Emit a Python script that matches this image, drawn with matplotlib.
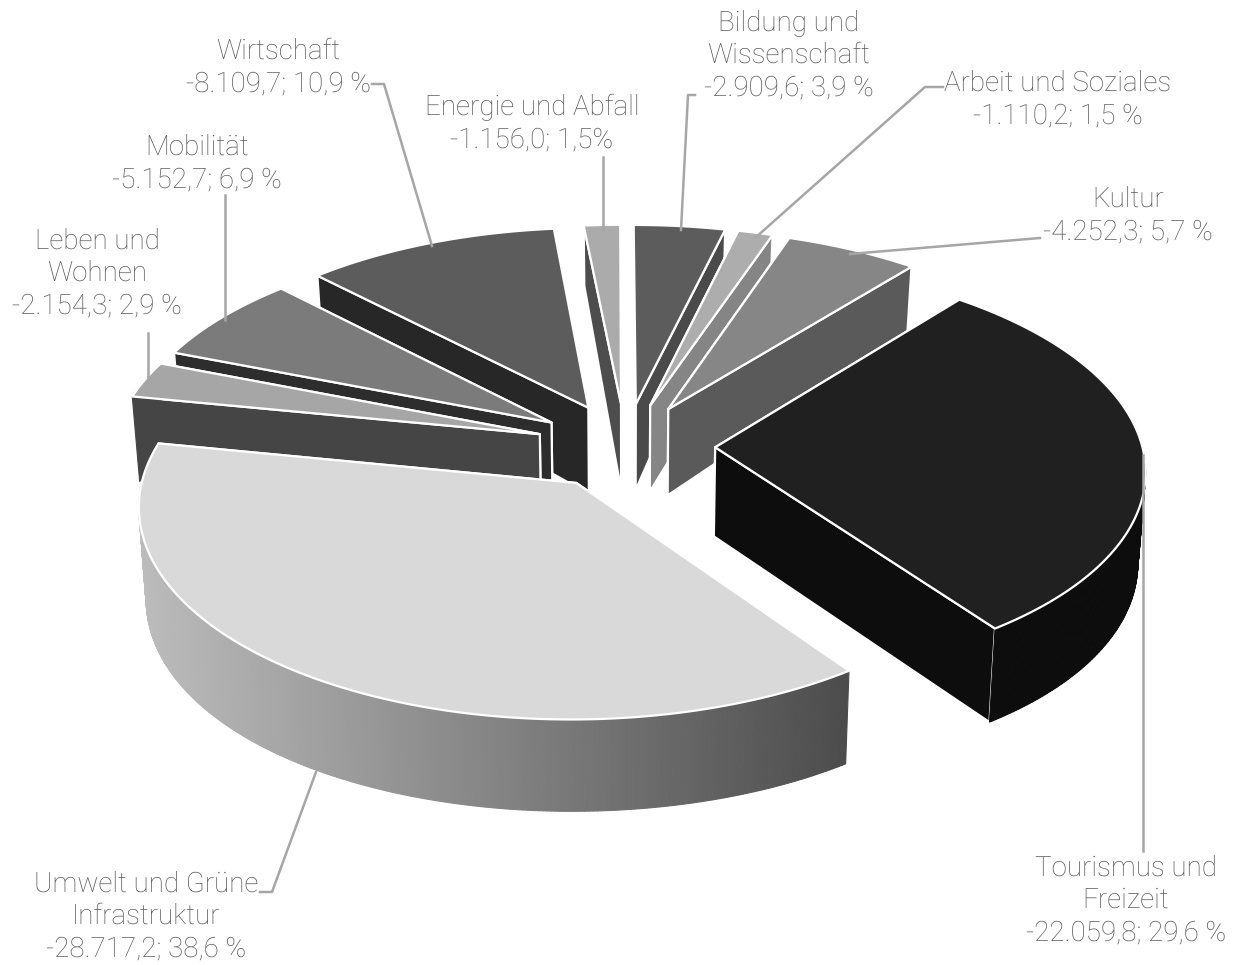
import numpy as np
import matplotlib
matplotlib.use("Agg")
import matplotlib.pyplot as plt
from matplotlib.patches import Polygon
from matplotlib.colors import to_rgb

plt.rcParams["text.hinting"] = "no_hinting"

categories = ["Tourismus und Freizeit", "Umwelt und Grüne Infrastruktur", "Leben und Wohnen",
              "Mobilität", "Wirtschaft", "Energie und Abfall", "Bildung und Wissenschaft",
              "Arbeit und Soziales", "Kultur"]
values = [22059.8, 28717.2, 2154.3, 5152.7, 8109.7, 1156.0, 2909.6, 1110.2, 4252.3]
top_colors = ["#202020", "#d9d9d9", "#a6a6a6", "#7b7b7b", "#5c5c5c", "#ababab", "#5c5c5c", "#adadad", "#868686"]
wall_colors = ["#0d0d0d", None, "#454545", "#2d2d2d", "#272727", "#4d4d4d", "#4a4a4a", "#858585", "#5a5a5a"]

label_lines = [
    ["Tourismus und", "Freizeit", "-22.059,8; 29,6 %"],
    ["Umwelt und Grüne", "Infrastruktur", "-28.717,2; 38,6 %"],
    ["Leben und", "Wohnen", "-2.154,3; 2,9 %"],
    ["Mobilität", "-5.152,7; 6,9 %"],
    ["Wirtschaft", "-8.109,7; 10,9 %"],
    ["Energie und Abfall", "-1.156,0; 1,5%"],
    ["Bildung und", "Wissenschaft", "-2.909,6; 3,9 %"],
    ["Arbeit und Soziales", "-1.110,2; 1,5 %"],
    ["Kultur", "-4.252,3; 5,7 %"],
]
label_pos = [(1126, 868), (146, 884), (97, 241), (197, 147), (278, 51), (532, 107), (789, 23), (1058, 83), (1128, 199)]
leaders = [
    [(1143, 455), (1143, 851)],
    [(316, 772), (272, 892), (260, 892)],
    [(148, 333), (148, 378)],
    [(225, 195), (225, 320)],
    [(372, 84), (384, 84), (432, 246)],
    [(603, 157), (603, 230)],
    [(695, 95), (688, 95), (681, 230)],
    [(943, 87), (925, 87), (755, 238)],
    [(1040, 238), (850, 254)],
]

# projection layout (pixels)
CX, CY, A, B = 625.5, 446, 427, 205
PERSP, EXPLODE, START = 0.10, 0.21, 39.2
GRAD_L, GRAD_R = np.array(to_rgb("#bcbcbc")), np.array(to_rgb("#4c4c4c"))

def top(u, v):
    s = 1 / (1 + PERSP * v)
    return np.column_stack([CX + A * u * s, CY - B * v * s])

def bottom(u, v):
    p = top(u, v)
    d = 89 - 13 * v - 9 * v ** 2
    return np.column_stack([CX + (p[:, 0] - CX) * 0.985, p[:, 1] + d])

fig = plt.figure(figsize=(12.36, 9.65), dpi=100)
ax = fig.add_axes([0, 0, 1, 1])
ax.set_xlim(0, 1236)
ax.set_ylim(965, 0)
ax.axis("off")

vals = np.array(values)
fracs = vals / vals.sum() * 360
starts = START + np.concatenate([[0], np.cumsum(fracs)[:-1]])
ends = starts + fracs
mids = (starts + ends) / 2
order = np.argsort(-np.cos(np.radians(mids)))

WHITE = dict(edgecolor="white", linewidth=1.6, joinstyle="round")

for i in order:
    th = np.radians(np.linspace(starts[i], ends[i], max(int(fracs[i] * 2), 4)))
    ou = EXPLODE * np.sin(np.radians(mids[i]))
    ov = EXPLODE * np.cos(np.radians(mids[i]))
    u = ou + np.sin(th)
    v = ov + np.cos(th)
    au, av = np.array([ou]), np.array([ov])
    t_arc, b_arc = top(u, v), bottom(u, v)
    t_apex, b_apex = top(au, av)[0], bottom(au, av)[0]
    wc = wall_colors[i]

    quads = [
        (np.vstack([t_apex, t_arc[0], b_arc[0], b_apex]), v[0] + ov),
        (np.vstack([t_apex, t_arc[-1], b_arc[-1], b_apex]), v[-1] + ov),
    ]
    quads.sort(key=lambda q: -q[1])
    for q, _ in quads:
        ax.add_patch(Polygon(q, closed=True, facecolor=wc if wc else GRAD_R, **WHITE))

    for k in range(len(th) - 1):
        if np.cos((th[k] + th[k + 1]) / 2) > 0.35:
            continue
        quad = np.vstack([t_arc[k], t_arc[k + 1], b_arc[k + 1], b_arc[k]])
        if wc:
            col = wc
        else:
            f = np.clip((quad[:, 0].mean() - 140) / (848 - 140), 0, 1)
            col = GRAD_L * (1 - f) + GRAD_R * f
        ax.add_patch(Polygon(quad, closed=True, facecolor=col, edgecolor=col, linewidth=0.8))

    ax.add_patch(Polygon(np.vstack([t_apex, t_arc]), closed=True, facecolor=top_colors[i], **WHITE))

for pts in leaders:
    xs, ys = zip(*pts)
    ax.plot(xs, ys, color="#a6a6a6", lw=1.8, solid_joinstyle="round", zorder=5)

for lines, (x, y) in zip(label_lines, label_pos):
    for j, line in enumerate(lines):
        ax.text(x, y + j * 32.5, line, ha="center", va="center", color="#595959",
                fontsize=20, family="Roboto", weight="light", zorder=6)

fig.savefig("out.png", dpi=100, facecolor="white")
